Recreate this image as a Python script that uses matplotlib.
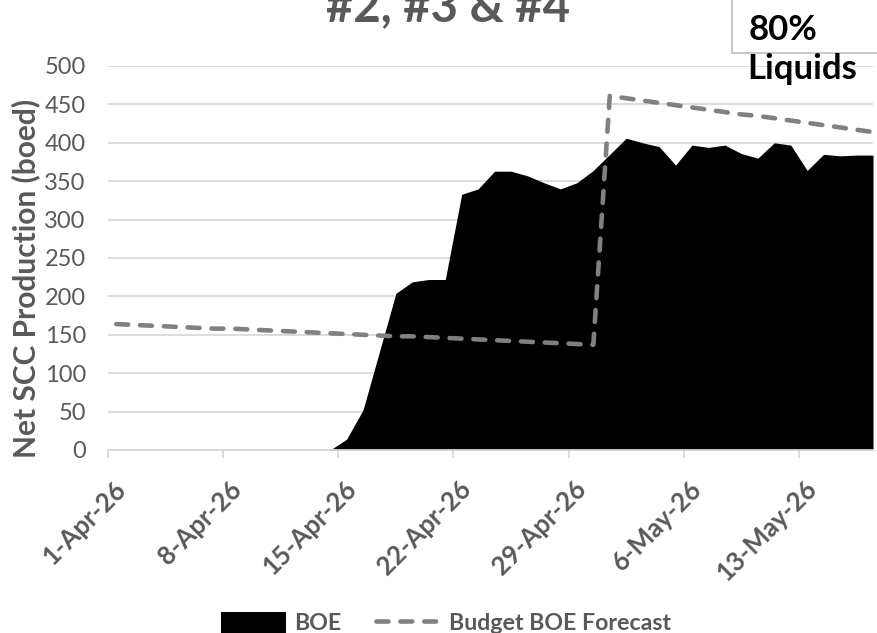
import matplotlib
matplotlib.use("Agg")
import matplotlib.pyplot as plt
import matplotlib.dates as mdates
import matplotlib.patches as mpatches
import matplotlib.lines as mlines
import matplotlib.transforms as mtransforms
import pandas as pd

plt.rcParams['font.family'] = ['Lato', 'DejaVu Sans']

# ---- data ----
dates = pd.date_range('2026-04-01', '2026-05-17', freq='D')
boe = [0, 0, 0, 0, 0, 0, 0, 0, 0, 0, 0, 0, 0,
       0, 14, 52, 128, 204, 219, 222, 222, 333, 340, 363, 363, 357, 348, 340, 348, 364,
       385, 406, 400, 395, 371, 397, 394, 397, 386, 380, 400, 397, 364, 385, 383, 384, 384]
forecast = [164, 163, 162, 161, 160, 159, 158, 158, 157, 156, 155, 154, 153, 152, 151,
            150, 149, 148, 148, 147, 146, 145, 144, 143, 142, 141, 140, 139, 138, 137,
            461, 458, 455, 452, 449, 446, 443, 440, 437, 435, 432, 429, 426, 423, 420, 417, 414]
tick_dates = pd.to_datetime(['2026-04-01', '2026-04-08', '2026-04-15', '2026-04-22',
                             '2026-04-29', '2026-05-06', '2026-05-13'])
tick_labels = ['1-Apr-26', '8-Apr-26', '15-Apr-26', '22-Apr-26', '29-Apr-26', '6-May-26', '13-May-26']
yticks = [0, 50, 100, 150, 200, 250, 300, 350, 400, 450, 500]

GRAY_TXT = '#595959'
GRID = '#d9d9d9'
FC_COL = '#808080'

W, H = 877, 633
fig = plt.figure(figsize=(W / 100, H / 100), dpi=100)
ax = fig.add_axes([108 / W, 183 / H, 765 / W, 384 / H])

# points sit at the middle of each day
x = mdates.date2num(dates) + 0.5

ax.fill_between(x, 0, boe, color='black', linewidth=0, zorder=2, label='BOE')
ax.plot(x, forecast, color=FC_COL, linewidth=3.3, dashes=(2.6, 2.6),
        dash_capstyle='round', solid_capstyle='round', zorder=3, label='Budget BOE Forecast')

ax.set_xlim(mdates.date2num(dates[0]), mdates.date2num(dates[-1]) + 0.5)
ax.set_ylim(0, 500)
ax.set_yticks(yticks)
ax.yaxis.grid(True, color=GRID, linewidth=1.3, zorder=0)
ax.set_axisbelow(True)

for s in ['top', 'right', 'left']:
    ax.spines[s].set_visible(False)
ax.spines['bottom'].set_color(GRID)
ax.spines['bottom'].set_linewidth(1.3)

tick_pos = mdates.date2num(tick_dates)
ax.set_xticks(tick_pos)
ax.tick_params(axis='x', length=5.5, width=1.3, color=GRID, labelbottom=False)
ax.tick_params(axis='y', length=0, pad=16, labelsize=17, labelcolor=GRAY_TXT)

# rotated date labels
trans = mtransforms.blended_transform_factory(ax.transData, ax.transAxes) + \
    mtransforms.ScaledTranslation(14 / 100, -35 / 100, fig.dpi_scale_trans)
for xp, lab in zip(tick_pos, tick_labels):
    ax.text(xp, 0, lab, transform=trans, rotation=45, ha='right', va='center',
            rotation_mode='anchor', fontsize=18.5, fontweight='bold', color=GRAY_TXT, clip_on=False)

# y axis title
fig.text(26 / W, 1 - 278 / H, 'Net SCC Production (boed)', rotation=90,
         ha='center', va='center', fontsize=21.5, fontweight='bold', color=GRAY_TXT)

# title (partially cut at the top)
fig.text(448 / W, 1 - 21 / H, '#2, #3 & #4', ha='center', va='baseline',
         fontsize=34, fontweight='bold', color=GRAY_TXT)

# text box
fig.patches.append(mpatches.Rectangle((732 / W, 1 - 53 / H), 0.3, 0.2, transform=fig.transFigure,
                                      facecolor='white', edgecolor='#bfbfbf', linewidth=1.2, zorder=5))
fig.text(749 / W, 1 - 40 / H, '80%', ha='left', va='baseline', fontsize=25,
         fontweight='bold', color='black', zorder=6)
fig.text(747 / W, 1 - 79 / H, 'Liquids', ha='left', va='baseline', fontsize=25,
         fontweight='bold', color='black', zorder=6)

# legend
h1 = mpatches.Patch(facecolor='black', edgecolor='none', label='BOE')
h2 = mlines.Line2D([], [], color=FC_COL, linewidth=3.3, dashes=(2.6, 2.6),
                   dash_capstyle='round', label='Budget BOE Forecast')
leg = fig.legend(handles=[h1, h2], loc='center', bbox_to_anchor=(446 / W, 1 - 623 / H),
                 ncol=2, frameon=False, prop={'family': 'Lato', 'weight': 'bold', 'size': 16.7},
                 handlelength=2.8, handleheight=1.0, handletextpad=0.35, columnspacing=1.5)
for t in leg.get_texts():
    t.set_color(GRAY_TXT)

fig.savefig('out.png', dpi=100)
